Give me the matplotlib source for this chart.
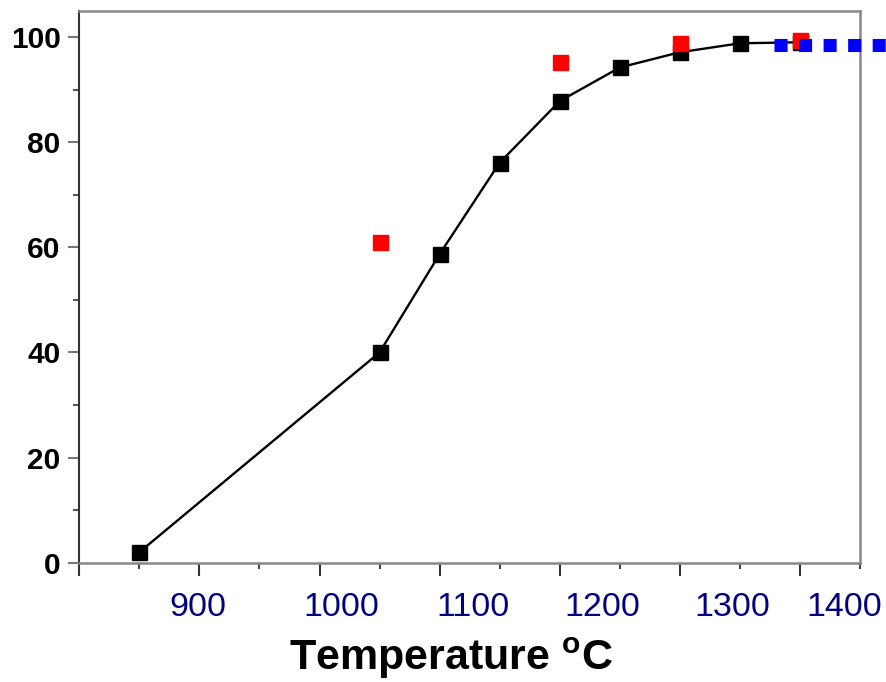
import numpy as np
import matplotlib.pyplot as plt
from matplotlib.transforms import blended_transform_factory

# data
temp_black = [850, 1050, 1100, 1150, 1200, 1250, 1300, 1350, 1400]
conv_black = [2.0, 40.0, 58.7, 76.1, 87.8, 94.2, 97.1, 98.8, 99.0]
temp_red = [1050, 1200, 1300, 1400]
conv_red = [61.0, 95.3, 98.8, 99.4]
blue_x = [1378.5, 1510]
blue_y = [98.4, 98.4]

xtick_labels = ['900', '1000', '1100', '1200', '1300', '1400']
# the printed labels sit where they were pasted, not on the ticks
xtick_label_pos = [898.8, 1017.9, 1127.8, 1235.2, 1343.4, 1436.6]

plt.rcParams['font.family'] = ['Liberation Sans', 'DejaVu Sans']

fig = plt.figure(figsize=(8.86, 6.82), dpi=100)
ax = fig.add_axes([0.0895, 0.1749, 0.9707 - 0.0895, 0.9843 - 0.1749])

ax.plot(temp_black, conv_black, color='black', lw=1.7, marker='s',
        markersize=10.8, markerfacecolor='black', markeredgecolor='black',
        zorder=2, clip_on=False)
ax.plot(temp_red, conv_red, linestyle='none', marker='s', markersize=10.8,
        color='#ff0000', zorder=3, clip_on=False)
blue, = ax.plot(blue_x, blue_y, color='#0000ff', lw=9.4, zorder=4,
                clip_on=False, solid_capstyle='butt', dash_capstyle='butt')
blue.set_dashes([1.0, 0.88])

ax.set_xlim(800, 1450)
ax.set_ylim(0, 105)

ax.set_xticks(np.arange(800, 1401, 100))
ax.set_xticks(np.arange(850, 1451, 100), minor=True)
ax.set_xticklabels([])
ax.set_yticks(np.arange(0, 101, 20))
ax.set_yticks(np.arange(10, 100, 20), minor=True)
ax.set_yticklabels([str(v) for v in range(0, 101, 20)],
                   fontsize=21.5, fontweight='bold')

ax.tick_params(axis='x', which='major', direction='out', length=9.4,
               width=1.5, color='#333333')
ax.tick_params(axis='x', which='minor', direction='out', length=4.3,
               width=1.5, color='#444444')
ax.tick_params(axis='y', which='major', direction='out', length=8,
               width=1.5, color='#777777', pad=5.5)
ax.tick_params(axis='y', which='minor', direction='out', length=4.3,
               width=1.5, color='#555555')

for side in ['top', 'right', 'bottom']:
    ax.spines[side].set_color('#888888')
    ax.spines[side].set_linewidth(1.8)
ax.spines['left'].set_color('#333333')
ax.spines['left'].set_linewidth(1.5)

# x labels: data x, figure-fraction y
lab_trans = blended_transform_factory(ax.transData, fig.transFigure)
for lab, pos in zip(xtick_labels, xtick_label_pos):
    ax.text(pos, (682 - 607.5) / 682, lab, transform=lab_trans,
            fontsize=24.5, color='#000080', ha='center', va='center')

fig.text(451 / 886, (682 - 670) / 682, r'Temperature $^{\mathregular{o}}$C',
         fontsize=31, fontweight='bold', ha='center', va='baseline')

fig.savefig('out.png', dpi=100)
